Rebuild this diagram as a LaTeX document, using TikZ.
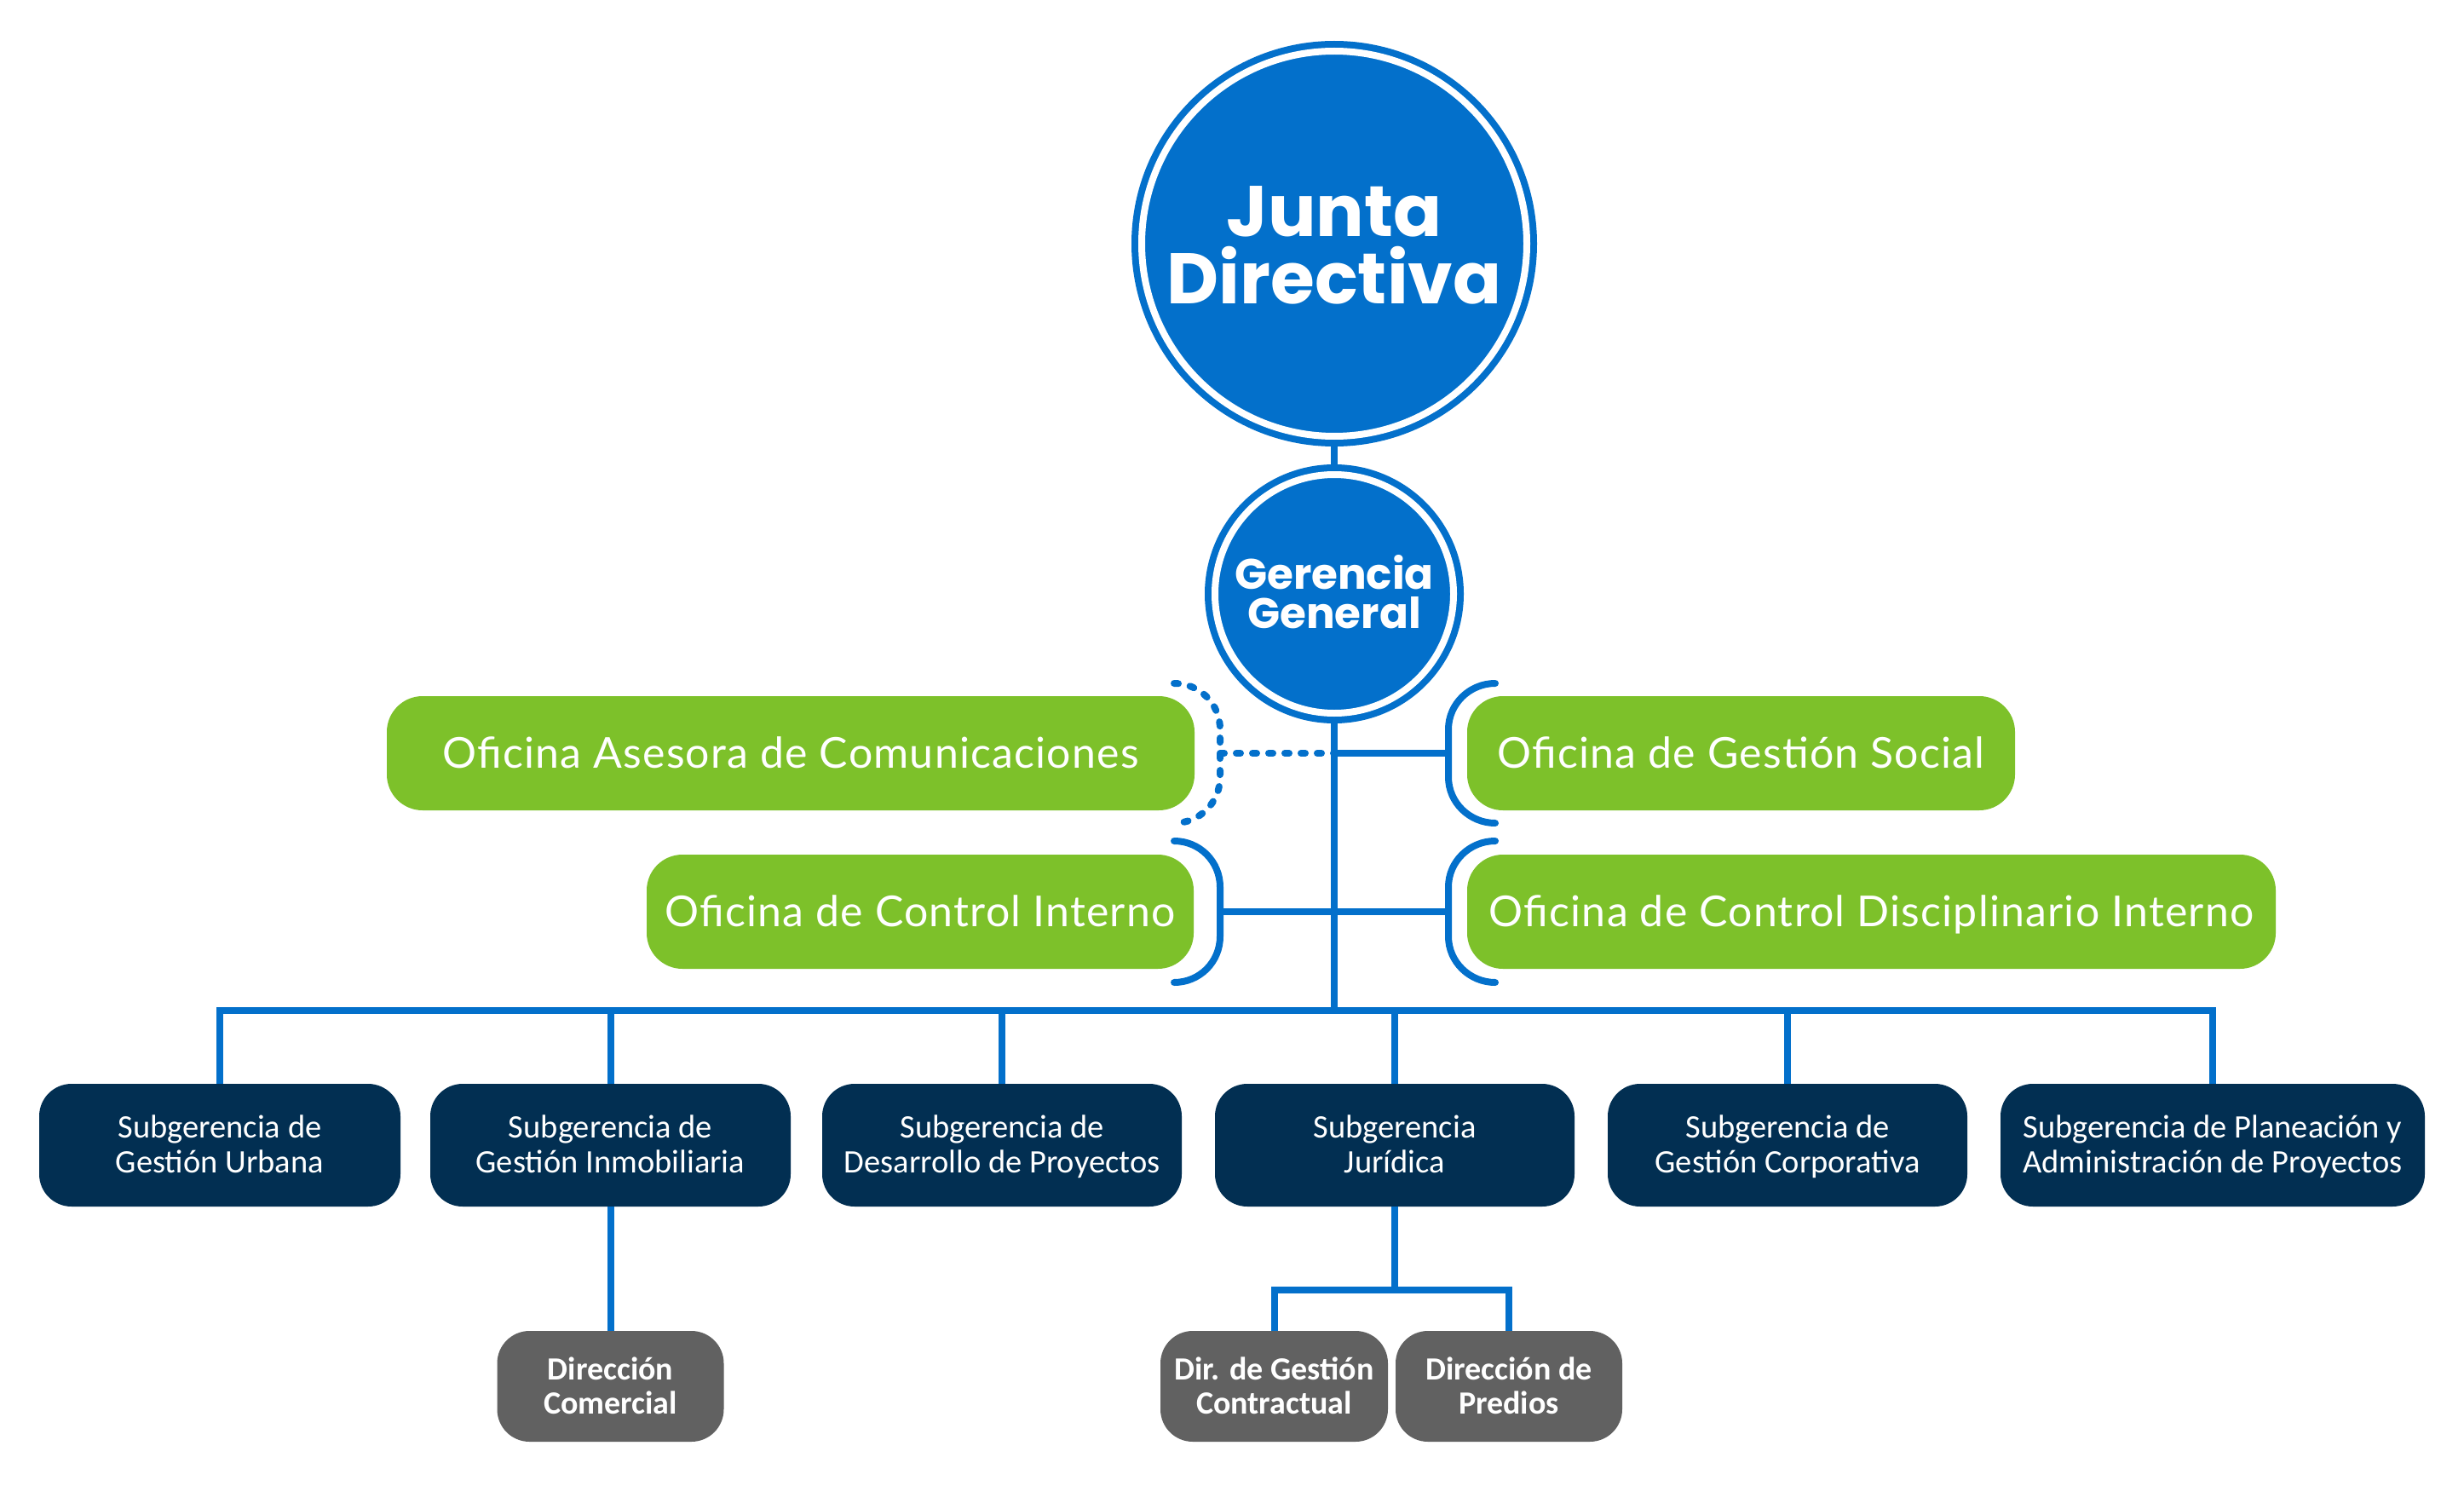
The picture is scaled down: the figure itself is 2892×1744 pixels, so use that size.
\documentclass[tikz,border=0pt]{standalone}
\usepackage{fontspec}
\setmainfont{Carlito}
\newfontfamily\popfont{Poppins}
\newfontfamily\latofont[LetterSpace=2.4]{Lato}
\newfontfamily\carfont{Carlito}
\definecolor{eruBlue}{HTML}{0370CB}
\definecolor{eruGreen}{HTML}{7DC12A}
\definecolor{eruNavy}{HTML}{022F52}
\definecolor{eruGray}{HTML}{616161}
\begin{document}
\begin{tikzpicture}[x=1pt,y=-1pt,
  conn/.style={draw=eruBlue, line width=8pt},
  bracket/.style={draw=eruBlue, line width=8pt, line cap=round},
  dotline/.style={draw=eruBlue, line width=8pt, line cap=round, dash pattern=on 5pt off 14pt},
  circ/.style={circle, fill=eruBlue, draw=eruBlue, double=white, double distance=8pt, line width=8pt, outer sep=12pt, inner sep=0pt, text=white, align=center, text depth=0pt},
  greenbox/.style={rectangle, rounded corners=42pt, fill=eruGreen, text=white, inner sep=0pt, outer sep=0pt, minimum height=134pt, font=\latofont\fontsize{50}{58}\selectfont, text height=35pt, text depth=0pt},
  subbox/.style={rectangle, rounded corners=38pt, fill=eruNavy, text=white, inner sep=0pt, outer sep=0pt, minimum height=144pt, align=center, font=\carfont\fontsize{38.5}{41}\selectfont, text height=65pt, text depth=0pt},
  dirbox/.style={rectangle, rounded corners=38pt, fill=eruGray, text=white, inner sep=0pt, outer sep=0pt, minimum height=130pt, align=center, font=\carfont\bfseries\fontsize{38}{40}\selectfont, text height=64pt, text depth=0pt}
]
\useasboundingbox (0,0) rectangle (2892,1744);
\fill[white] (0,0) rectangle (2892,1744);

% circles
\node[circ, minimum size=452pt, font=\popfont\bfseries\fontsize{84}{79}\selectfont, text height=140pt] (junta) at (1566,286) {Junta\\Directiva};
\node[circ, minimum size=280pt, font=\popfont\bfseries\fontsize{50}{46}\selectfont, text height=81pt] (ger) at (1566,697) {Gerencia\\General};

% green offices
\node[greenbox, minimum width=948pt] (ofAse) at (928,884) {Oficina Asesora de Comunicaciones};
\node[greenbox, minimum width=643pt] (ofSoc) at (2043.5,884) {Oficina de Gestión Social};
\node[greenbox, minimum width=642pt] (ofCI) at (1080,1070) {Oficina de Control Interno};
\node[greenbox, minimum width=949pt] (ofCD) at (2196.5,1070) {Oficina de Control Disciplinario Interno};

% subgerencias
\node[subbox, minimum width=424pt] (s1) at (258,1344) {Subgerencia de\\Gestión Urbana};
\node[subbox, minimum width=423pt] (s2) at (716.5,1344) {Subgerencia de\\Gestión Inmobiliaria};
\node[subbox, minimum width=422pt] (s3) at (1176,1344) {Subgerencia de\\Desarrollo de Proyectos};
\node[subbox, minimum width=422pt] (s4) at (1637,1344) {Subgerencia\\Jurídica};
\node[subbox, minimum width=422pt] (s5) at (2098,1344) {Subgerencia de\\Gestión Corporativa};
\node[subbox, minimum width=498pt] (s6) at (2597,1344) {Subgerencia de Planeación y\\Administración de Proyectos};

% direcciones
\node[dirbox, minimum width=266pt] (dc) at (716.5,1627) {Dirección\\Comercial};
\node[dirbox, minimum width=267pt] (dg) at (1495.5,1627) {Dir. de Gestión\\Contractual};
\node[dirbox, minimum width=266pt] (dp) at (1771,1627) {Dirección de\\Predios};

% main trunk
\coordinate (bus) at (1566,1186);
\draw[conn] (junta.south) -- (ger.north);
\draw[conn] (ger.south) -- (bus);

% brackets
\coordinate (brAL) at (1432,884);
\coordinate (brAR) at (1700,884);
\coordinate (brBL) at (1432,1070);
\coordinate (brBR) at (1700,1070);
\coordinate (tA) at (1566,884);
\draw[dotline] (1378,802) .. controls (1408,802) and (1432,826) .. (1432,856) -- (brAL) -- (1432,912) .. controls (1432,942) and (1408,966) .. (1378,966);
\draw[bracket] (1755,802) .. controls (1725,802) and (1700,826) .. (1700,856) -- (brAR) -- (1700,912) .. controls (1700,942) and (1725,966) .. (1755,966);
\draw[bracket] (1378,987) .. controls (1408,987) and (1432,1011) .. (1432,1041) -- (brBL) -- (1432,1099) .. controls (1432,1129) and (1408,1153) .. (1378,1153);
\draw[bracket] (1755,987) .. controls (1725,987) and (1700,1011) .. (1700,1041) -- (brBR) -- (1700,1099) .. controls (1700,1129) and (1725,1153) .. (1755,1153);
\draw[dotline] (brAL) -- (tA);
\draw[conn] (tA) -- (brAR);
\draw[conn] (brBL) -- (brBR);

% bus to subgerencias
\draw[conn] (s1.north) -- (s1.north |- bus) -- (s6.north |- bus) -- (s6.north);
\foreach \n in {s2,s3,s4,s5} { \draw[conn] (\n.north) -- (\n.north |- bus); }

% lower connections
\coordinate (jbus) at (1637,1514);
\draw[conn] (s2.south) -- (dc.north);
\draw[conn] (s4.south) -- (jbus);
\draw[conn] (dg.north) -- (dg.north |- jbus) -- (dp.north |- jbus) -- (dp.north);
\end{tikzpicture}
\end{document}
